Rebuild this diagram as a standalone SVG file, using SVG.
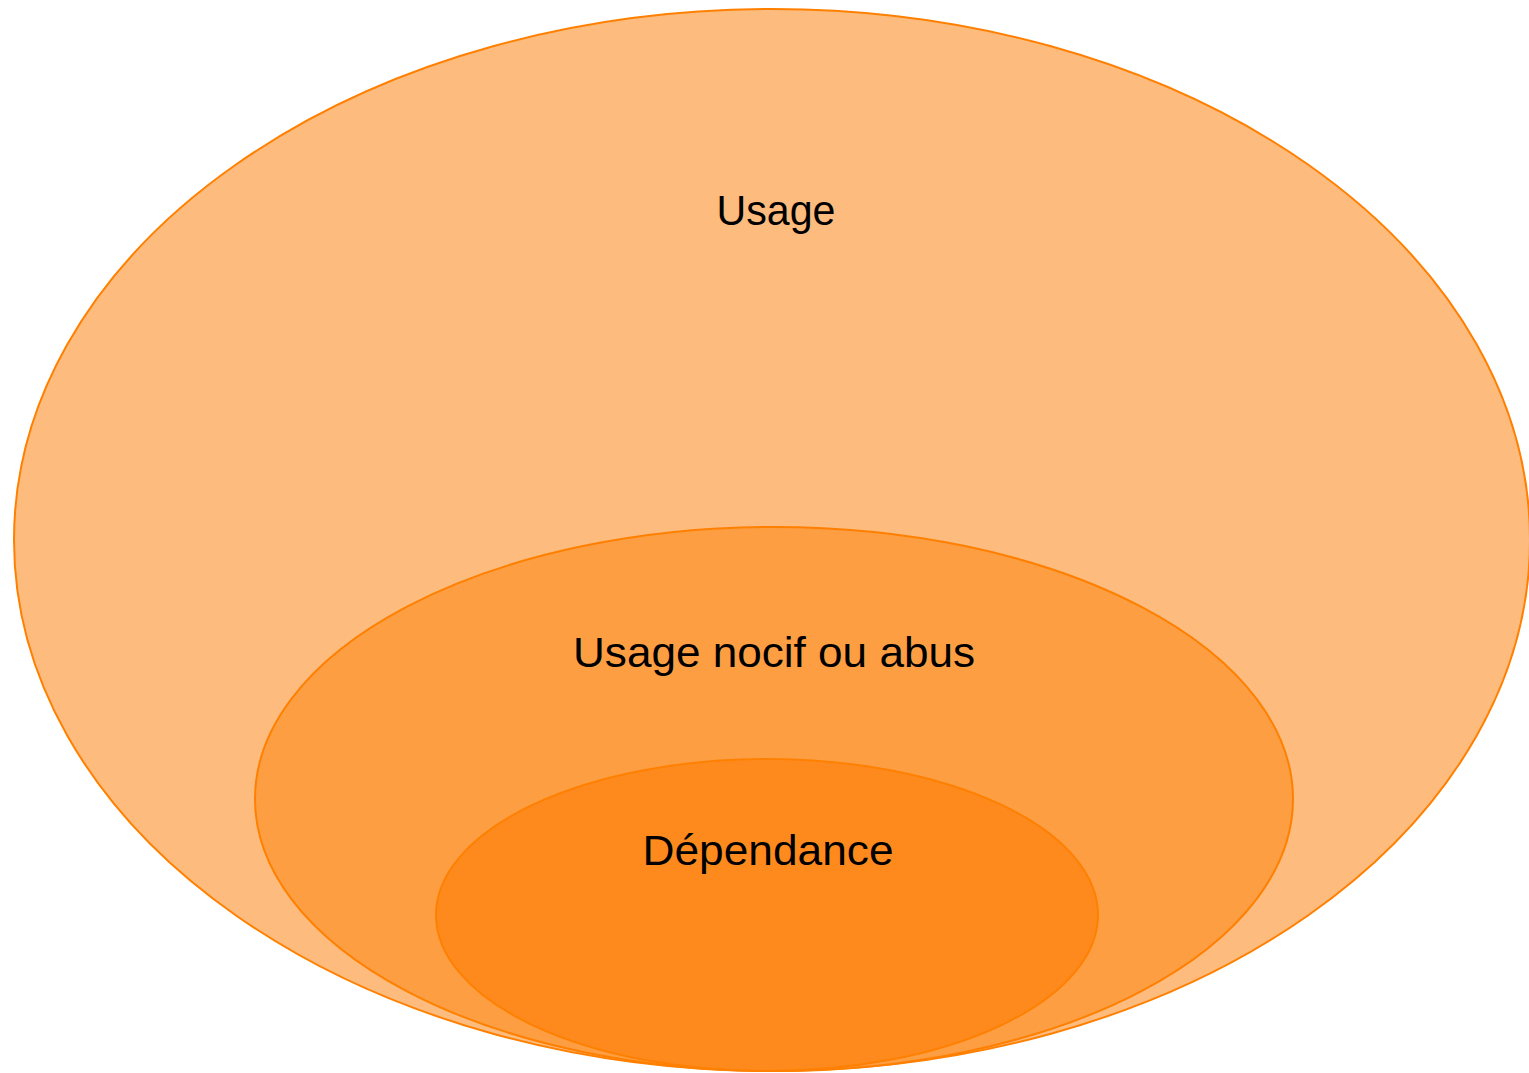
<svg xmlns="http://www.w3.org/2000/svg" width="1529" height="1073" viewBox="0 0 1529 1073">
<style>
.e{stroke:#FF8000;stroke-width:2}
.t{font-family:"Liberation Sans",Arial,sans-serif;font-size:43px;fill:#000;text-anchor:middle}
</style>
<rect width="1529" height="1073" fill="#fff"/>
<g id="usage">
<ellipse class="e" cx="772" cy="540" rx="758" ry="531" fill="#FDBB7E"/>
<text class="t" x="776" y="225" textLength="119" lengthAdjust="spacingAndGlyphs">Usage</text>
</g>
<g id="abus">
<ellipse class="e" cx="774" cy="799" rx="519" ry="272" fill="#FD9E42"/>
<text class="t" x="774" y="667" textLength="402" lengthAdjust="spacingAndGlyphs">Usage nocif ou abus</text>
</g>
<g id="dependance">
<ellipse class="e" cx="767" cy="915" rx="331" ry="156" fill="#FE8A1E"/>
<text class="t" x="768" y="865" textLength="251" lengthAdjust="spacingAndGlyphs">Dépendance</text>
</g>
<g id="connectors"/>
</svg>
